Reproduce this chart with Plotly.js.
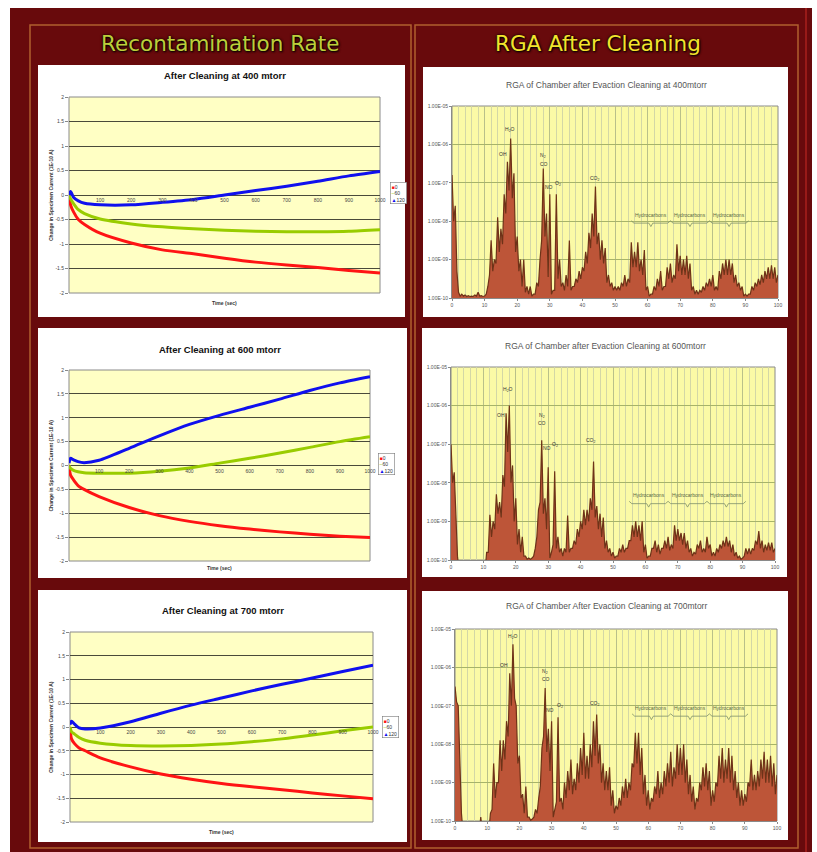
<!DOCTYPE html>
<html><head><meta charset="utf-8">
<script src="https://cdn.plot.ly/plotly-3.0.1.min.js"></script>
<style>html,body{margin:0;padding:0;background:#fff;}#chart{width:817px;height:852px;}</style>
</head><body><div id="chart"></div>
<script>
// ---------- Recontamination rate data (time in sec) ----------
const timeSec = [0,5,15,30,50,100,200,300,400,500,600,700,800,900,1000];
const seriesNames = ['0','60','120'];
const t400_s0   = [0,-0.2,-0.35,-0.5,-0.6,-0.78,-0.98,-1.12,-1.2,-1.29,-1.37,-1.43,-1.48,-1.54,-1.59];
const t400_s60  = [0,-0.08,-0.18,-0.3,-0.38,-0.49,-0.59,-0.65,-0.69,-0.72,-0.74,-0.75,-0.75,-0.74,-0.71];
const t400_s120 = [0,0.07,-0.05,-0.12,-0.17,-0.2,-0.2,-0.15,-0.09,0.0,0.09,0.18,0.28,0.39,0.48];
const t600_s0   = [0,-0.2,-0.3,-0.42,-0.5,-0.65,-0.88,-1.05,-1.17,-1.26,-1.33,-1.39,-1.44,-1.48,-1.51];
const t600_s60  = [0,-0.06,-0.1,-0.13,-0.15,-0.16,-0.16,-0.12,-0.05,0.05,0.15,0.26,0.38,0.5,0.6];
const t600_s120 = [0.05,0.15,0.12,0.08,0.06,0.11,0.36,0.62,0.86,1.05,1.22,1.39,1.57,1.73,1.86];
const t700_s0   = [0,-0.25,-0.35,-0.44,-0.5,-0.65,-0.84,-0.99,-1.1,-1.19,-1.26,-1.32,-1.39,-1.45,-1.51];
const t700_s60  = [0,-0.1,-0.15,-0.22,-0.28,-0.34,-0.39,-0.4,-0.39,-0.36,-0.31,-0.25,-0.17,-0.08,0.0];
const t700_s120 = [0.05,0.12,0.06,-0.02,-0.04,-0.02,0.11,0.29,0.46,0.61,0.76,0.9,1.03,1.17,1.3];
const leftTitles = ['After Cleaning at 400 mtorr','After Cleaning at 600 mtorr','After Cleaning at 700 mtorr'];
const leftYTicks = [-2,-1.5,-1,-0.5,0,0.5,1,1.5,2];
const leftYTickText = ['-2','-1.5','-1','-0.5','0','0.5','1','1.5','2'];
const leftXTicks = [100,200,300,400,500,600,700,800,900,1000];

// ---------- RGA data: log10(pressure) + 10, peaks at integer AMU, valleys at half AMU ----------
const rga400_peaks = [3.2,2.4,0.15,0.1,0.08,0.06,0.05,0.08,0.15,0.06,0.05,
 0.3,1.5,1.0,2.1,1.8,2.7,3.55,4.15,3.25,1.6,
 1.0,1.0,0.3,0.3,0.1,0.4,1.0,3.37,2.2,2.7,
 0.2,2.7,1.0,0.4,0.6,1.5,0.3,0.5,0.7,0.8,
 1.2,1.7,2.2,2.9,1.7,1.5,1.3,0.6,0.4,0.3,
 0.3,0.4,0.6,0.5,1.45,1.2,1.45,1.0,1.25,0.3,
 0.1,0.3,0.5,0.7,0.3,0.8,0.9,0.6,1.4,1.1,
 1.0,1.1,0.9,0.3,0.2,0.2,0.3,0.4,0.5,0.6,
 0.3,0.7,0.9,1.0,1.0,0.9,0.6,0.4,0.3,0.1,
 0.1,0.3,0.4,0.5,0.6,0.7,0.8,0.85,0.8,0.6];
const rga400_valleys = [2.0,0.7,0.05,0.05,0.04,0.04,0.04,0.05,0.05,0.04,
 0.1,0.6,0.7,0.9,1.2,1.4,2.2,2.8,2.6,1.2,
 0.7,0.3,0.15,0.1,0.05,0.1,0.3,1.5,1.6,0.55,
 0.1,0.2,0.5,0.3,0.2,0.3,0.2,0.3,0.4,0.5,
 0.7,0.9,1.3,1.6,1.4,1.0,0.9,0.4,0.3,0.2,
 0.2,0.2,0.3,0.3,0.4,0.8,0.8,0.7,0.6,0.2,
 0.05,0.1,0.2,0.3,0.2,0.3,0.5,0.4,0.5,0.7,
 0.6,0.6,0.5,0.2,0.1,0.1,0.15,0.2,0.3,0.3,
 0.2,0.2,0.5,0.6,0.6,0.6,0.4,0.3,0.2,0.05,
 0.05,0.1,0.2,0.3,0.35,0.4,0.5,0.5,0.5,0.4];
const rga600_peaks = [3.0,2.27,0.1,-0.3,-0.3,-0.3,-0.3,-0.3,-0.3,-0.3,-0.3,
 0.2,1.17,1.0,1.7,1.5,2.2,3.8,4.0,2.45,1.6,
 0.8,0.6,0.1,0.05,0.05,0.3,1.3,3.1,1.6,2.4,
 0.2,2.3,0.6,0.3,0.3,1.15,0.3,0.5,0.8,1.0,
 1.3,1.3,1.6,2.55,1.4,1.2,1.1,0.5,0.3,0.2,
 0.1,0.3,0.4,0.3,0.5,0.9,1.0,0.9,1.0,0.4,
 0.1,0.3,0.5,0.4,0.3,0.5,0.6,0.4,0.9,0.8,
 0.7,0.7,0.5,0.3,0.2,0.4,0.5,0.3,0.6,0.4,
 0.2,0.3,0.4,0.5,0.6,0.5,0.4,0.2,0.1,0.05,
 0.3,0.3,0.3,0.5,0.75,0.5,0.4,0.45,0.45,0.3];
const rga600_valleys = [2.0,1.0,-0.3,-0.3,-0.3,-0.3,-0.3,-0.3,-0.3,-0.3,
 -0.3,0.2,0.6,0.8,1.2,1.1,1.9,2.8,2.0,1.0,
 0.4,0.2,0.1,0.02,0.02,0.1,0.6,1.5,1.2,0.8,
 0.05,0.4,0.3,0.2,0.1,0.2,0.2,0.3,0.4,0.6,
 0.8,0.9,1.0,1.3,1.1,0.8,0.6,0.3,0.2,0.1,
 0.05,0.1,0.2,0.2,0.3,0.5,0.6,0.6,0.5,0.2,
 0.05,0.1,0.3,0.2,0.15,0.3,0.3,0.25,0.3,0.5,
 0.5,0.4,0.3,0.2,0.1,0.15,0.3,0.2,0.2,0.3,
 0.1,0.1,0.2,0.3,0.35,0.35,0.2,0.1,0.05,0.02,
 0.1,0.15,0.15,0.25,0.4,0.3,0.2,0.25,0.25,0.2];
const rga700_peaks = [3.5,3.0,0.2,-0.3,-0.3,-0.3,-0.3,-0.3,0.1,-0.3,-0.3,
 0.2,1.5,1.0,2.1,2.1,2.6,3.85,4.6,3.0,1.7,
 0.7,0.9,0.1,0.05,0.3,0.6,1.9,3.46,2.4,2.6,
 0.3,2.7,0.6,1.0,1.3,1.6,1.1,1.5,1.9,2.3,
 1.7,2.0,2.6,2.77,2.0,1.5,1.3,1.4,0.8,0.4,
 0.6,0.9,1.1,1.0,1.5,2.3,2.3,1.9,1.2,0.8,
 0.6,0.9,1.3,1.0,1.3,1.5,1.8,1.4,2.0,1.9,
 2.0,1.6,1.2,0.9,0.6,1.0,1.4,1.5,1.3,0.8,
 1.0,1.7,1.9,1.6,1.9,1.7,1.3,1.0,0.8,0.7,
 1.0,1.6,1.2,1.3,1.6,1.8,1.6,1.7,1.5,1.2];
const rga700_valleys = [3.1,1.5,-0.3,-0.3,-0.3,-0.3,-0.3,-0.3,-0.3,-0.3,
 -0.3,0.3,0.6,1.0,1.3,1.6,2.2,3.0,3.2,1.5,
 0.6,0.2,0.1,0.02,0.1,0.2,0.9,2.2,1.8,1.3,
 0.1,0.5,0.5,0.3,0.6,0.8,0.7,0.8,1.0,1.2,
 1.1,1.1,1.4,1.7,1.5,1.0,0.8,0.8,0.4,0.2,
 0.3,0.4,0.6,0.6,0.8,1.4,1.5,1.2,0.7,0.4,
 0.3,0.5,0.7,0.6,0.7,0.9,1.0,0.9,1.1,1.2,
 1.2,1.0,0.7,0.5,0.3,0.5,0.8,0.9,0.8,0.4,
 0.5,0.9,1.1,1.0,1.1,1.0,0.8,0.6,0.4,0.4,
 0.5,0.9,0.8,0.8,0.9,1.1,1.0,1.0,0.9,0.7];
const rgaTitles = ['RGA of Chamber after Evaction Cleaning at 400mtorr','RGA of Chamber after Evaction Cleaning at 600mtorr','RGA of Chamber After Evaction Cleaning at 700mtorr'];
const rgaYTicks = [1e-10,1e-9,1e-8,1e-7,1e-6,1e-5];
const rgaYTickText = ['1.00E-10','1.00E-09','1.00E-08','1.00E-07','1.00E-06','1.00E-05'];
const rgaXTicks = [0,10,20,30,40,50,60,70,80,90,100];
// species labels: text, amu, level (decades above 1E-10) for each chart
const speciesText = ['OH','H<sub>2</sub>O','N<sub>2</sub>','CO','NO','O<sub>2</sub>','CO<sub>2</sub>'];
const speciesAmu = [[15.7,17.7,28,28.3,29.8,32.4,43.8],[15.5,17.6,28,28.2,29.6,32.2,43.3],[15.2,18,28,28.3,29.6,32.6,43.5]];
const speciesLvl = [[3.74,4.4,3.72,3.5,2.9,2.97,3.1],[3.75,4.41,3.75,3.55,2.9,3.0,3.1],[4.07,4.8,3.9,3.7,2.9,3.0,3.05]];
const hcText = 'Hydrocarbons';
const hcStart = [55,67,79];
const hcEnd = [67,79,91];
const hcLevel = [2.07,1.58,2.85];

// ---------- layout helpers ----------
const W=817,H=852;
const px=v=>v/W, py=v=>1-v/H;
const leftPlot = [[69,380,97,293],[69,370,370,561],[70,373,632,822]];
const rightPlot = [[452,778,106,298],[451,775,367,560],[455,777,629,821]];
const leftBox = [[38,405,65,317],[38,407,328,578],[38,407,590,842]];
const rightBox = [[423,788,67,317],[422,787,328,577],[422,788,591,840]];
const leftTitleXY = [[225,76],[220,349],[223,610]];
const rightTitleXY = [[606,85],[605,346],[606,606]];
const legendXY = [[390,182],[378,453],[382,716]];
const xTitleY = [303,568,832];

const colors = {s0:'#ff1414', s60:'#99cc00', s120:'#1010ee'};
const FONT = 'Liberation Sans, Arial, sans-serif';

const traces=[];
const leftSets = [[t400_s0,t400_s60,t400_s120],[t600_s0,t600_s60,t600_s120],[t700_s0,t700_s60,t700_s120]];
const colArr=[colors.s0,colors.s60,colors.s120];
leftSets.forEach((set,i)=>{
  set.forEach((ys,k)=>{
    traces.push({type:'scatter',mode:'lines',x:timeSec,y:ys,name:seriesNames[k],
      xaxis:'x'+(i===0?'':i+1), yaxis:'y'+(i===0?'':i+1),
      line:{color:colArr[k],width:3,shape:'spline',smoothing:0.7},showlegend:false,hoverinfo:'skip'});
  });
});
const rgaSets=[[rga400_peaks,rga400_valleys],[rga600_peaks,rga600_valleys],[rga700_peaks,rga700_valleys]];
rgaSets.forEach((s,i)=>{
  const xs=[],ys=[],base=[];
  for(let a=0;a<s[0].length;a++){
    xs.push(a); ys.push(Math.pow(10,s[0][a]-10)); base.push(1e-12);
    if(a<s[1].length){xs.push(a+0.5); ys.push(Math.pow(10,s[1][a]-10)); base.push(1e-12);}
  }
  const n=i+4;
  traces.push({type:'scatter',mode:'lines',x:xs,y:base,xaxis:'x'+n,yaxis:'y'+n,line:{width:0,color:'rgba(0,0,0,0)'},showlegend:false,hoverinfo:'skip'});
  traces.push({type:'scatter',mode:'lines',x:xs,y:ys,xaxis:'x'+n,yaxis:'y'+n,fill:'tonexty',fillcolor:'#bd5538',
    line:{color:'#6e3218',width:1.2},showlegend:false,hoverinfo:'skip'});
});

const layout={width:W,height:H,margin:{l:0,r:0,t:0,b:0},paper_bgcolor:'#ffffff',plot_bgcolor:'rgba(0,0,0,0)',
  showlegend:false,font:{family:FONT,color:'#333'},shapes:[],annotations:[]};

// background frame
layout.shapes.push({type:'rect',xref:'paper',yref:'paper',x0:px(10),x1:px(812),y0:py(852),y1:py(8),fillcolor:'#680a0c',line:{width:0},layer:'below'});
layout.shapes.push({type:'line',xref:'paper',yref:'paper',x0:px(806),x1:px(806),y0:py(852),y1:py(8),line:{color:'#a8201c',width:1.5},layer:'below'});
layout.shapes.push({type:'rect',xref:'paper',yref:'paper',x0:px(30),x1:px(411),y0:py(848),y1:py(25),line:{color:'#b0602e',width:1.5},layer:'below'});
layout.shapes.push({type:'rect',xref:'paper',yref:'paper',x0:px(415),x1:px(798),y0:py(848),y1:py(25),line:{color:'#b0602e',width:1.5},layer:'below'});
leftBox.concat(rightBox).forEach(b=>{
  layout.shapes.push({type:'rect',xref:'paper',yref:'paper',x0:px(b[0]),x1:px(b[1]),y0:py(b[3]),y1:py(b[2]),fillcolor:'#ffffff',line:{width:0},layer:'below'});
});

// headers
const headFont = {family:'DejaVu Sans, sans-serif',weight:'normal',size:21.5,shadow:'0px 0px 3px #000, 1px 1px 2px #000'};
layout.annotations.push({xref:'paper',yref:'paper',x:px(220),y:py(44),text:'Recontamination Rate',showarrow:false,
  font:Object.assign({},headFont,{color:'#bccf3a'})});
layout.annotations.push({xref:'paper',yref:'paper',x:px(598),y:py(44),text:'RGA After Cleaning',showarrow:false,
  font:Object.assign({},headFont,{color:'#f2e42c'})});

// left subplots
leftPlot.forEach((p,i)=>{
  const sfx = i===0?'':String(i+1);
  const yd=[py(p[3]),py(p[2])];
  layout['xaxis'+sfx]={domain:[px(p[0]),px(p[1])],range:[0,1000],anchor:'free',position:(yd[0]+yd[1])/2,
    tickvals:leftXTicks,ticks:'',showgrid:false,zeroline:false,showline:false,tickfont:{size:5,color:'#444'},ticklabelstandoff:1,fixedrange:true};
  layout['yaxis'+sfx]={domain:yd,range:[-2,2],anchor:'x'+sfx,tickvals:leftYTicks,ticktext:leftYTickText,
    showgrid:true,gridcolor:'#4a4a3a',gridwidth:1,zeroline:false,showline:false,ticks:'outside',ticklen:3,tickcolor:'#888',
    tickfont:{size:5,color:'#444'},fixedrange:true};
  layout.shapes.push({type:'rect',xref:'x'+sfx+' domain',yref:'y'+sfx+' domain',x0:0,x1:1,y0:0,y1:1,fillcolor:'#ffffc4',line:{color:'#8a8a8a',width:1},layer:'below'});
  layout.annotations.push({xref:'paper',yref:'paper',x:px(leftTitleXY[i][0]),y:py(leftTitleXY[i][1]),text:'<b>'+leftTitles[i]+'</b>',showarrow:false,font:{size:9.5,color:'#111'}});
  layout.annotations.push({xref:'paper',yref:'paper',x:px((p[0]+p[1])/2),y:py(xTitleY[i]),text:'<b>Time (sec)</b>',showarrow:false,font:{size:5,color:'#333'}});
  layout.annotations.push({xref:'paper',yref:'paper',x:px(51),y:(yd[0]+yd[1])/2,text:'<b>Change in Specimen Current (1E-10 A)</b>',textangle:-90,showarrow:false,font:{size:5,color:'#333'}});
  layout.annotations.push({xref:'paper',yref:'paper',x:px(legendXY[i][0]),y:py(legendXY[i][1]),xanchor:'left',yanchor:'top',align:'left',
    text:'<span style="color:'+colors.s0+'">■</span>'+seriesNames[0]+'<br><span style="color:'+colors.s60+'">–</span>'+seriesNames[1]+'<br><span style="color:'+colors.s120+'">▲</span>'+seriesNames[2],
    showarrow:false,bgcolor:'#ffffff',bordercolor:'#777',borderwidth:0.6,borderpad:1,font:{size:5,color:'#333'}});
});

// right subplots
rightPlot.forEach((p,i)=>{
  const n=i+4;
  layout['xaxis'+n]={domain:[px(p[0]),px(p[1])],range:[0,100],anchor:'y'+n,tickvals:rgaXTicks,
    showgrid:true,gridcolor:'#b9c08a',gridwidth:1,minor:{dtick:2,showgrid:true,gridcolor:'#d3d7a6',gridwidth:1},
    zeroline:false,showline:true,linecolor:'#8a8a8a',ticks:'outside',ticklen:2,tickcolor:'#888',tickfont:{size:5,color:'#555'},fixedrange:true};
  layout['yaxis'+n]={domain:[py(p[3]),py(p[2])],type:'log',range:[-10,-5],anchor:'x'+n,tickvals:rgaYTicks,ticktext:rgaYTickText,
    showgrid:true,gridcolor:'#a7b36a',gridwidth:1,zeroline:false,showline:true,linecolor:'#8a8a8a',ticks:'outside',ticklen:2,tickcolor:'#888',
    tickfont:{size:5,color:'#555'},fixedrange:true};
  layout.shapes.push({type:'rect',xref:'x'+n+' domain',yref:'y'+n+' domain',x0:0,x1:1,y0:0,y1:1,fillcolor:'#fbfaa6',line:{color:'#8a8a8a',width:1},layer:'below'});
  layout.annotations.push({xref:'paper',yref:'paper',x:px(rightTitleXY[i][0]),y:py(rightTitleXY[i][1]),text:rgaTitles[i],showarrow:false,font:{size:8.5,color:'#555'}});
  speciesText.forEach((t,k)=>{
    layout.annotations.push({xref:'x'+n,yref:'y'+n+' domain',x:speciesAmu[i][k],y:speciesLvl[i][k]/5,text:t,showarrow:false,font:{size:5,color:'#333'}});
  });
  hcStart.forEach((a,k)=>{
    const b=hcEnd[k], m=(a+b)/2, L=hcLevel[i]/5, d=0.012;
    layout.annotations.push({xref:'x'+n,yref:'y'+n+' domain',x:m,y:L+0.02,text:hcText,showarrow:false,font:{size:5,color:'#556644'}});
    layout.shapes.push({type:'path',xref:'x'+n,yref:'y'+n+' domain',
      path:`M ${a},${L-d} L ${a+0.8},${L-2*d} L ${m-0.6},${L-2*d} L ${m},${L-3.5*d} L ${m+0.6},${L-2*d} L ${b-0.8},${L-2*d} L ${b},${L-d}`,
      line:{color:'#7f906a',width:0.8}});
  });
});
layout.annotations.forEach(a=>{ if(!a.xanchor) a.xanchor='center'; if(!a.yanchor) a.yanchor='middle'; });

Plotly.newPlot('chart',traces,layout,{staticPlot:true});
</script></body></html>
